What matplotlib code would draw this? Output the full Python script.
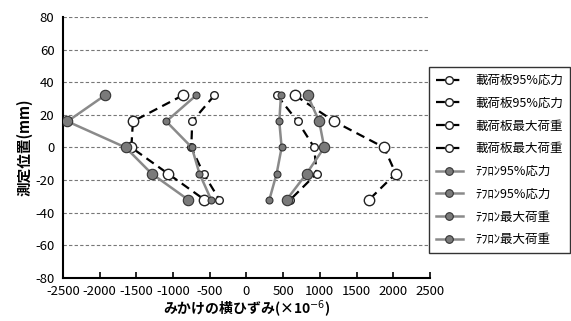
import numpy as np
import matplotlib
matplotlib.use("Agg")
import matplotlib.pyplot as plt

plt.rcParams['font.family'] = ['Noto Sans CJK JP', 'DejaVu Sans']
plt.rcParams['axes.unicode_minus'] = False

# measurement positions (mm)
pos = [32, 16, 0, -16, -32]

# strains (x10^-6), left side
ldp_95_a = [-435, -738, -750, -584, -367]      # 載荷板95%応力
ldp_max_a = [-865, -1545, -1567, -1069, -571]  # 載荷板最大荷重
tef_95_a = [-684, -1091, -743, -639, -480]     # テフロン95%応力
tef_max_a = [-1926, -2437, -1644, -1291, -793] # テフロン最大荷重

# right side
ldp_95_b = [417, 698, 924, 956, 598]
ldp_max_b = [662, 1196, 1875, 2034, 1671]
tef_95_b = [471, 448, 480, 412, 313]
tef_max_b = [833, 992, 1060, 820, 548]

labels = ['載荷板95%応力', '載荷板95%応力', '載荷板最大荷重', '載荷板最大荷重',
          'ﾃﾌﾛﾝ95%応力', 'ﾃﾌﾛﾝ95%応力', 'ﾃﾌﾛﾝ最大荷重', 'ﾃﾌﾛﾝ最大荷重']

fig = plt.figure(figsize=(5.71, 3.21), dpi=100)
ax = fig.add_axes([0.110, 0.134, 0.643, 0.813])

open_s = dict(color='black', ls=(0, (4, 2.5)), lw=1.6, marker='o', mfc='white', mec='#222222', mew=1.0)
fill_s = dict(color='#8a8a8a', ls='-', lw=1.8, marker='o', mfc='#7a7a7a', mec='#333333', mew=0.8)

series = [
    (ldp_95_a, open_s, 5.5), (ldp_95_b, open_s, 5.5),
    (ldp_max_a, open_s, 7.5), (ldp_max_b, open_s, 7.5),
    (tef_95_a, fill_s, 5.0), (tef_95_b, fill_s, 5.0),
    (tef_max_a, fill_s, 7.5), (tef_max_b, fill_s, 7.5),
]
handles = []
for (xs, st, ms), lab in zip(series, labels):
    h, = ax.plot(xs, pos, ms=ms, label=lab, zorder=3 if st is open_s else 4, **st)
    handles.append(h)

ax.set_xlim(-2500, 2500)
ax.set_ylim(-80, 80)
ax.set_xticks(np.arange(-2500, 2501, 500))
ax.set_yticks(np.arange(-80, 81, 20))
for y in np.arange(-60, 81, 20):
    ax.axhline(y, color='#777777', ls=(0, (3, 2)), lw=0.8, zorder=1)

for s in ['top', 'right']:
    ax.spines[s].set_visible(False)
for s in ['left', 'bottom']:
    ax.spines[s].set_linewidth(1.5)
ax.tick_params(axis='x', direction='in', length=4, width=1.2, labelsize=9.5, pad=5)
ax.tick_params(axis='y', length=0, labelsize=9.5, pad=6)

ax.set_ylabel('測定位置(mm)', fontsize=10.5, fontweight='bold', labelpad=2)
ax.set_xlabel('みかけの横ひずみ(×10$^{-6}$)', fontsize=10, fontweight='bold', labelpad=0)

leg = ax.legend(handles=handles, loc='upper left', bbox_to_anchor=(0.751, 0.791),
                bbox_transform=fig.transFigure, fontsize=9, frameon=True,
                fancybox=False, edgecolor='black', labelspacing=0.78,
                handlelength=2.2, handletextpad=1.0, borderpad=0.55, borderaxespad=0)
leg.get_frame().set_linewidth(1.0)
for ln in leg.get_lines():
    ln.set_markersize(5.5)

fig.savefig('out.png', dpi=100)
